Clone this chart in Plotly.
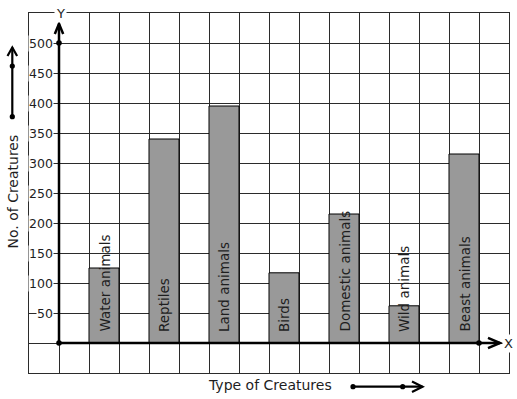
import plotly.graph_objects as go

categories = ["Water animals", "Reptiles", "Land animals", "Birds",
              "Domestic animals", "Wild animals", "Beast animals"]
values = [125, 340, 395, 117, 215, 62, 315]
y_ticks = [50, 100, 150, 200, 250, 300, 350, 400, 450, 500]

W, H = 517, 399
L, R, T, B = 29, 509, 13, 373  # plot area in pixels
FONT = "DejaVu Sans"
INK = "#1e1e1e"

def px(x):
    return (x - L) / (R - L)

def py(y):
    return (B - y) / (B - T)

xpos = [2 * i + 1.5 for i in range(len(categories))]

fig = go.Figure()
fig.add_trace(go.Bar(
    x=xpos, y=values, width=1,
    marker=dict(color="#999999", line=dict(color="black", width=1)),
    hoverinfo="skip",
))

annotations = []
# bar labels (rotated, inside bars)
for xc, name in zip(xpos, categories):
    annotations.append(dict(
        x=xc, y=0, xref="x", yref="y", text=name, showarrow=False,
        textangle=-90, xanchor="center", yanchor="bottom", yshift=9,
        font=dict(family=FONT, size=13.5, color=INK)))
# y tick labels inside plot with white background
for v in y_ticks:
    annotations.append(dict(
        x=0, y=v, xref="x", yref="y", text=str(v), showarrow=False,
        xanchor="right", yanchor="middle", xshift=-5,
        bgcolor="white", borderpad=0,
        font=dict(family=FONT, size=12.5, color=INK)))
# axis letters
annotations.append(dict(x=0, y=1, xref="x", yref="paper", text="Y", showarrow=False,
                        xanchor="center", yanchor="middle", bgcolor="white", borderpad=1,
                        xshift=1, font=dict(family=FONT, size=13, color=INK)))
annotations.append(dict(x=1, y=0, xref="paper", yref="y", text="X", showarrow=False,
                        xanchor="center", yanchor="middle", bgcolor="white", borderpad=1,
                        xshift=-1, font=dict(family=FONT, size=13, color=INK)))
# titles
annotations.append(dict(x=px(269.5), y=py(385), xref="paper", yref="paper",
                        text="Type of Creatures", showarrow=False,
                        xanchor="center", yanchor="middle",
                        font=dict(family=FONT, size=14, color=INK)))
annotations.append(dict(x=px(12.5), y=py(192), xref="paper", yref="paper",
                        text="No. of Creatures", showarrow=False, textangle=-90,
                        xanchor="center", yanchor="middle",
                        font=dict(family=FONT, size=14, color=INK)))

shapes = []
AX = dict(color="black", width=2.5)
# axes
shapes.append(dict(type="line", xref="x", yref="y", x0=0, y0=0, x1=0, y1=532, line=AX, layer="above"))
shapes.append(dict(type="line", xref="x", yref="y", x0=0, y0=0, x1=14.7, y1=0, line=AX, layer="above"))
# arrowheads
shapes.append(dict(type="path", xref="x", yref="y",
                   path="M -0.14,515 L 0,532 L 0.14,515", line=AX, layer="above"))
shapes.append(dict(type="path", xref="x", yref="y",
                   path="M 14.3,-8.5 L 14.7,0 L 14.3,8.5", line=AX, layer="above"))

def dot(cx, cy, r, ref="data"):
    if ref == "data":
        return dict(type="circle", xref="x", yref="y",
                    x0=cx - r / 30, x1=cx + r / 30, y0=cy - r / 0.6, y1=cy + r / 0.6,
                    fillcolor="black", line=dict(color="black", width=0), layer="above")
    return dict(type="circle", xref="paper", yref="paper",
                x0=px(cx - r), x1=px(cx + r), y0=py(cy + r), y1=py(cy - r),
                fillcolor="black", line=dict(color="black", width=0), layer="above")

shapes += [dot(0, 0, 2.8), dot(0, 500, 2.8), dot(14, 0, 2.8)]

# y-title arrow
LW = dict(color="black", width=2.2)
shapes.append(dict(type="line", xref="paper", yref="paper",
                   x0=px(12.3), y0=py(116.7), x1=px(12.3), y1=py(47.5), line=LW))
shapes.append(dict(type="path", xref="paper", yref="paper",
                   path=f"M {px(7.5)},{py(56)} L {px(12.3)},{py(47.5)} L {px(17.1)},{py(56)}",
                   line=LW))
shapes += [dot(12.3, 66, 2.6, "paper"), dot(12.3, 116.7, 2.6, "paper")]
# x-title arrow
shapes.append(dict(type="line", xref="paper", yref="paper",
                   x0=px(353), y0=py(386.7), x1=px(422.5), y1=py(386.7), line=LW))
shapes.append(dict(type="path", xref="paper", yref="paper",
                   path=f"M {px(412)},{py(381.5)} L {px(422.5)},{py(386.7)} L {px(412)},{py(391.9)}",
                   line=LW))
shapes += [dot(353, 386.7, 2.6, "paper"), dot(402.7, 386.7, 2.6, "paper")]

GRID = "#2b2b2b"
fig.update_layout(
    width=W, height=H,
    margin=dict(l=L, r=W - R, t=T, b=H - B, pad=0),
    paper_bgcolor="white", plot_bgcolor="white",
    showlegend=False, hovermode=False,
    font=dict(family=FONT, color=INK),
    xaxis=dict(range=[-1, 15], tick0=-1, dtick=1, showgrid=True, gridcolor=GRID, gridwidth=1,
               showline=True, mirror=True, linecolor=GRID, linewidth=1,
               zeroline=False, showticklabels=False, ticks="", fixedrange=True),
    yaxis=dict(range=[-50, 550], tick0=-50, dtick=50, showgrid=True, gridcolor=GRID, gridwidth=1,
               showline=True, mirror=True, linecolor=GRID, linewidth=1,
               zeroline=False, showticklabels=False, ticks="", fixedrange=True),
    annotations=annotations,
    shapes=shapes,
)

fig.write_html("out.html", config={"displayModeBar": False, "staticPlot": True},
               post_script="document.body.style.margin='0';document.body.style.overflow='hidden';")
